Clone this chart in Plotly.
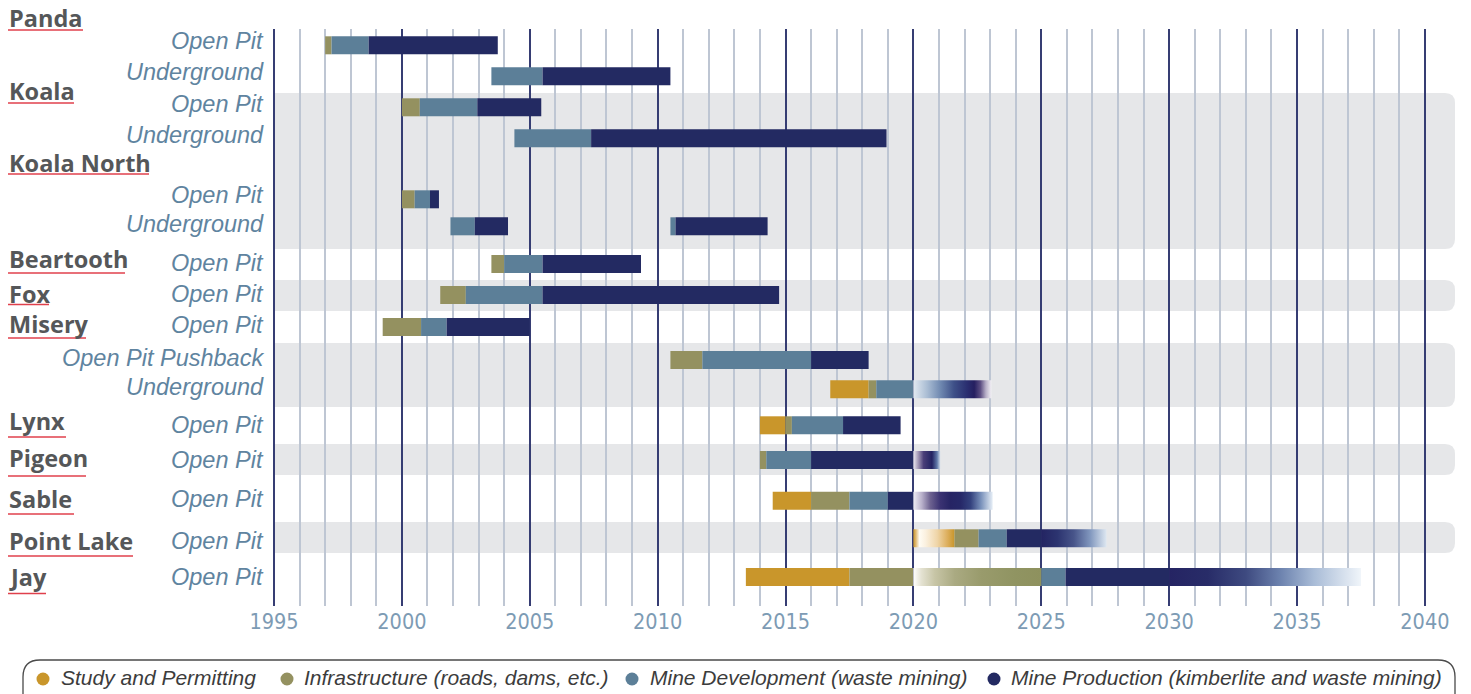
import plotly.graph_objects as go

# ---------------- data ----------------
SITES = ["Panda", "Koala", "Koala North", "Beartooth", "Fox", "Misery",
         "Lynx", "Pigeon", "Sable", "Point Lake", "Jay"]

PITS = ["Open Pit", "Underground",          # Panda
        "Open Pit", "Underground",          # Koala
        "Open Pit", "Underground",          # Koala North
        "Open Pit",                         # Beartooth
        "Open Pit",                         # Fox
        "Open Pit", "Open Pit Pushback", "Underground",  # Misery
        "Open Pit",                         # Lynx
        "Open Pit",                         # Pigeon
        "Open Pit",                         # Sable
        "Open Pit",                         # Point Lake
        "Open Pit"]                         # Jay

PHASES = ["Study and Permitting", "Infrastructure (roads, dams, etc.)",
          "Mine Development (waste mining)",
          "Mine Production (kimberlite and waste mining)"]

# (row index, start year, end year)
STUDY = [(10, 2016.75, 2018.25), (11, 2014.0, 2015.0), (13, 2014.5, 2016.0),
         (15, 2013.45, 2017.5)]
INFRA = [(0, 1997.0, 1997.25), (2, 2000.0, 2000.7), (4, 2000.0, 2000.5),
         (6, 2003.5, 2004.0), (7, 2001.5, 2002.5), (8, 1999.25, 2000.75),
         (9, 2010.5, 2011.75), (10, 2018.25, 2018.55), (11, 2015.0, 2015.25),
         (12, 2014.0, 2014.25), (13, 2016.0, 2017.5), (14, 2021.6, 2022.55),
         (15, 2017.5, 2020.0)]
DEV = [(0, 1997.25, 1998.7), (1, 2003.5, 2005.5), (2, 2000.7, 2002.95),
       (3, 2004.4, 2007.4), (4, 2000.5, 2001.1), (5, 2001.9, 2002.85),
       (5, 2010.5, 2010.7), (6, 2004.0, 2005.5), (7, 2002.5, 2005.5),
       (8, 2000.75, 2001.75), (9, 2011.75, 2016.0), (10, 2018.55, 2020.0),
       (11, 2015.25, 2017.25), (12, 2014.25, 2016.0), (13, 2017.5, 2019.0),
       (14, 2022.55, 2023.65), (15, 2025.0, 2025.95)]
PROD = [(0, 1998.7, 2003.75), (1, 2005.5, 2010.5), (2, 2002.95, 2005.45),
        (3, 2007.4, 2018.95), (4, 2001.1, 2001.45), (5, 2002.85, 2004.15),
        (5, 2010.7, 2014.3), (6, 2005.5, 2009.35), (7, 2005.5, 2014.75),
        (8, 2001.75, 2005.0), (9, 2016.0, 2018.25), (11, 2017.25, 2019.5),
        (12, 2016.0, 2020.0), (13, 2019.0, 2020.0), (14, 2023.65, 2025.0),
        (15, 2025.95, 2030.0)]
# projected (faded) segments: (row, start, end)
FADED = [(10, 2020.0, 2023.05), (12, 2020.0, 2021.05), (13, 2020.0, 2023.1),
         (14, 2020.0, 2021.6), (14, 2025.0, 2027.55), (15, 2020.0, 2025.0),
         (15, 2030.0, 2037.5)]

MAJOR_YEARS = list(range(1995, 2041, 5))
MINOR_YEARS = [y for y in range(1996, 2040) if y % 5]

# ---------------- layout / style ----------------
OFF = 8                            # page body margin of the html page
W, H = 1471 - OFF, 694 - OFF
PLOT_TOP, PLOT_BOT = 29, 606       # in page pixels
PXY = 25.575                       # pixels per year
X1995 = 274 - OFF
X_LO = 1995 - X1995 / PXY
X_HI = 1995 + (W - X1995) / PXY

ROW_Y = [45.3, 76.3, 107.3, 138.3, 199.3, 226.3, 264, 295, 327, 360,
         389.3, 425.3, 460, 500.8, 538.3, 577]
PIT_LABEL_Y = [41, 72, 103.5, 135, 195, 223.5, 262.5, 293.5, 325, 357.5,
               387, 425, 460, 498.5, 540.5, 577]
SITE_LABEL_Y = [18, 91.5, 162.5, 259.5, 293.5, 323.5, 421, 458.5, 498.5,
                540.5, 577]
UNDERLINE = [(30, 83), (103, 74), (174, 149), (273, 125), (304.5, 49),
             (338, 86), (437, 66), (476, 86), (514, 74), (556, 133),
             (593.5, 46)]
BANDS = [(93, 249), (280, 311), (343, 407), (444, 475), (522, 553)]
BAR_H = 18

COL = ["#C9962B", "#949160", "#5C7F98", "#232A62"]
FADE_SCALES = [
    [[0, "#E2EAF1"], [0.18, "#A9BCD3"], [0.35, "#6F88B0"], [0.52, "#3E5088"],
     [0.69, "#2A2E70"], [0.78, "#251F60"], [0.86, "#5C4E82"], [0.93, "#B8B0C8"],
     [1, "#F2F0F5"]],
    [[0, "#EDEAF2"], [0.2, "#9A8FB0"], [0.38, "#4A3E78"], [0.69, "#232362"],
     [0.88, "#5F78A8"], [1, "#D0DCEA"]],
    [[0, "#EFEDF4"], [0.106, "#B9B1CB"], [0.213, "#6D6290"], [0.34, "#3A3272"],
     [0.468, "#262464"], [0.596, "#262868"], [0.723, "#34427E"],
     [0.851, "#7890BA"], [1, "#E6EEF6"]],
    [[0, "#C9962B"], [0.066, "#E2BC78"], [0.148, "#FFFCF4"], [0.295, "#FBF1E0"],
     [0.582, "#EFD5A8"], [0.828, "#DDAF5E"], [1, "#C9962B"]],
    [[0, "#232462"], [0.25, "#2C3470"], [0.5, "#48558A"], [0.75, "#8197BE"],
     [1, "#DDE7F1"]],
    [[0, "#FFFFFF"], [0.0625, "#E4E2D2"], [0.167, "#C7C5A6"], [0.323, "#AAAA82"],
     [0.531, "#999B6C"], [0.792, "#909462"], [1, "#8E915E"]],
    [[0, "#252463"], [0.2, "#282C68"], [0.4, "#3E4A80"], [0.578, "#6C82AE"],
     [0.756, "#A9BCD7"], [1, "#F0F5FA"]],
]


def px(xp):
    """page x pixel -> paper x"""
    return (xp - OFF) / W


def py(yp):
    """page y pixel -> paper y"""
    return (PLOT_BOT - yp) / (PLOT_BOT - PLOT_TOP)


fig = go.Figure()

for segs, color, name in zip([STUDY, INFRA, DEV, PROD], COL, PHASES):
    fig.add_trace(go.Bar(
        orientation="h",
        y=[ROW_Y[r] for r, a, b in segs],
        base=[a for r, a, b in segs],
        x=[b - a for r, a, b in segs],
        width=BAR_H, marker=dict(color=color, line=dict(width=0)),
        name=name, showlegend=False, hoverinfo="skip"))

for (r, a, b), cs in zip(FADED, FADE_SCALES):
    yc = ROW_Y[r]
    h = BAR_H / 2
    fig.add_trace(go.Scatter(
        x=[a, b, b, a, a], y=[yc - h, yc - h, yc + h, yc + h, yc - h],
        mode="lines", fill="toself",
        line=dict(width=0, color="rgba(0,0,0,0)"),
        fillgradient=dict(type="horizontal", colorscale=cs),
        hoverinfo="skip", showlegend=False))

shapes = []
# grey bands with rounded right corners
bx0 = 1995
bx1 = 1995 + (1455 - 274) / PXY
rr = 10
rx = rr / PXY
for y0, y1 in BANDS:
    path = (f"M {bx0},{y0} L {bx1 - rx},{y0} Q {bx1},{y0} {bx1},{y0 + rr} "
            f"L {bx1},{y1 - rr} Q {bx1},{y1} {bx1 - rx},{y1} L {bx0},{y1} Z")
    shapes.append(dict(type="path", path=path, xref="x", yref="y",
                       fillcolor="#E6E7E9", line=dict(width=0), layer="below"))

# red underlines of site names
for yy, xe in UNDERLINE:
    shapes.append(dict(type="line", xref="paper", yref="paper",
                       x0=px(8), x1=px(xe), y0=py(yy), y1=py(yy),
                       line=dict(color="#E0404C", width=1.6)))

# legend box (rounded)
lx0, lx1, ly0, ly1, lr = 23, 1455, 660, 712, 17
lpath = (f"M {px(lx0)},{py(ly1)} L {px(lx0)},{py(ly0 + lr)} "
         f"Q {px(lx0)},{py(ly0)} {px(lx0 + lr)},{py(ly0)} "
         f"L {px(lx1 - lr)},{py(ly0)} Q {px(lx1)},{py(ly0)} {px(lx1)},{py(ly0 + lr)} "
         f"L {px(lx1)},{py(ly1)}")
shapes.append(dict(type="path", path=lpath, xref="paper", yref="paper",
                   line=dict(color="#4A4A4A", width=1.3)))

LEG_DOT_X = [43, 287, 632, 994]
LEG_TXT_X = [59, 302, 648, 1009]
for dx, c in zip(LEG_DOT_X, COL):
    shapes.append(dict(type="circle", xref="paper", yref="paper",
                       xsizemode="pixel", ysizemode="pixel",
                       xanchor=px(dx), yanchor=py(679),
                       x0=-6.5, x1=6.5, y0=-6.5, y1=6.5,
                       fillcolor=c, line=dict(width=0)))

annotations = []
for name, yy in zip(SITES, SITE_LABEL_Y):
    annotations.append(dict(
        text=name, xref="paper", yref="paper", x=px(7), y=py(yy),
        xanchor="left", yanchor="middle", showarrow=False,
        font=dict(family="Open Sans", size=23.5, color="#555759", weight=700)))

pit_x = 1995 + (266 - 274) / PXY
for name, yy in zip(PITS, PIT_LABEL_Y):
    annotations.append(dict(
        text=name, xref="x", yref="paper", x=pit_x, y=py(yy),
        xanchor="right", yanchor="middle", showarrow=False,
        font=dict(family="Liberation Sans, Arial", size=23.5, color="#5F84A0",
                  style="italic")))

for name, tx in zip(PHASES, LEG_TXT_X):
    annotations.append(dict(
        text=name, xref="paper", yref="paper", x=px(tx), y=py(677),
        xanchor="left", yanchor="middle", showarrow=False,
        font=dict(family="Liberation Sans, Arial", size=21, color="#3C3C3C",
                  style="italic")))

fig.update_layout(
    width=W, height=H,
    margin=dict(l=0, r=0, t=PLOT_TOP - OFF, b=H - (PLOT_BOT - OFF), pad=0),
    paper_bgcolor="white", plot_bgcolor="white",
    barmode="overlay", showlegend=False,
    shapes=shapes, annotations=annotations,
    xaxis=dict(range=[X_LO, X_HI], tickmode="array", tickvals=MAJOR_YEARS,
               ticktext=[str(y) for y in MAJOR_YEARS],
               showgrid=True, gridcolor="#363D73", gridwidth=2,
               zeroline=False, showline=False, ticks="",
               tickfont=dict(family="Liberation Sans Narrow, DejaVu Sans Condensed, Arial Narrow",
                             size=21.5, color="#7D9BB4"),
               minor=dict(tickmode="array", tickvals=MINOR_YEARS, showgrid=True,
                          gridcolor="#BEC6D3", gridwidth=1.6, ticks=""),
               fixedrange=True),
    yaxis=dict(range=[PLOT_BOT, PLOT_TOP], showgrid=False, zeroline=False,
               showticklabels=False, showline=False, fixedrange=True),
)

fig.write_html("out.html")
